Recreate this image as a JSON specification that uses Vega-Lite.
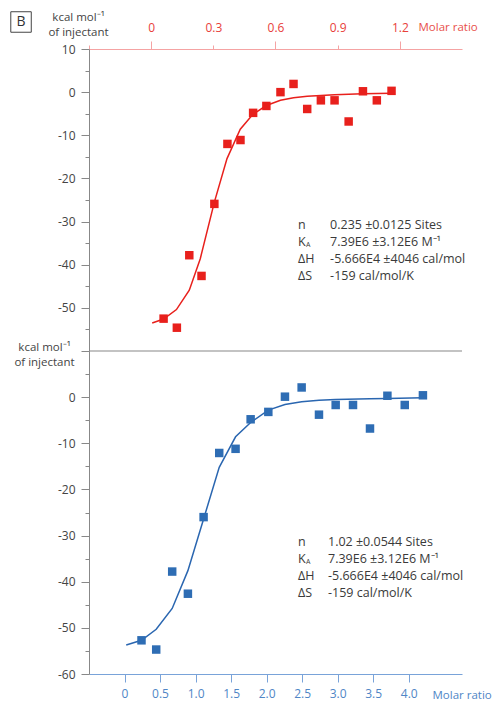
{
  "$schema": "https://vega.github.io/schema/vega-lite/v6.json",
  "padding": {"left": 8, "top": 9, "right": 5, "bottom": 5},
  "background": "white",
  "spacing": 0,
  "bounds": "flush",
  "config": {
    "view": {"stroke": null},
    "font": "Open Sans",
    "axis": {"grid": false, "labelFont": "Open Sans", "titleFont": "Open Sans", "labelFontSize": 12, "titleFontSize": 11.5, "titleFontWeight": "normal"}
  },
  "datasets": {
    "topPts": [
      {"x": 0.06, "y": -52.5}, {"x": 0.124, "y": -54.6}, {"x": 0.184, "y": -37.8}, {"x": 0.243, "y": -42.6},
      {"x": 0.305, "y": -25.9}, {"x": 0.368, "y": -12.0}, {"x": 0.431, "y": -11.1}, {"x": 0.492, "y": -4.8},
      {"x": 0.556, "y": -3.2}, {"x": 0.624, "y": 0.0}, {"x": 0.687, "y": 1.9}, {"x": 0.753, "y": -3.9},
      {"x": 0.819, "y": -1.9}, {"x": 0.885, "y": -1.9}, {"x": 0.953, "y": -6.8}, {"x": 1.022, "y": 0.2},
      {"x": 1.089, "y": -1.9}, {"x": 1.16, "y": 0.3}
    ],
    "topFit": [
      {"x": 0.005, "y": -53.5}, {"x": 0.06, "y": -52.6}, {"x": 0.122, "y": -50.4}, {"x": 0.184, "y": -45.9},
      {"x": 0.237, "y": -38.6}, {"x": 0.305, "y": -25.5}, {"x": 0.366, "y": -15.4}, {"x": 0.43, "y": -8.6},
      {"x": 0.49, "y": -5.2}, {"x": 0.556, "y": -3.1}, {"x": 0.624, "y": -1.9}, {"x": 0.687, "y": -1.3},
      {"x": 0.753, "y": -0.95}, {"x": 0.885, "y": -0.6}, {"x": 1.02, "y": -0.4}, {"x": 1.16, "y": -0.25}
    ],
    "botPts": [
      {"x": 0.239, "y": -52.7}, {"x": 0.446, "y": -54.7}, {"x": 0.671, "y": -37.8}, {"x": 0.892, "y": -42.6},
      {"x": 1.113, "y": -26.0}, {"x": 1.333, "y": -12.1}, {"x": 1.563, "y": -11.2}, {"x": 1.775, "y": -4.8},
      {"x": 2.024, "y": -3.2}, {"x": 2.258, "y": 0.1}, {"x": 2.493, "y": 2.1}, {"x": 2.737, "y": -3.8},
      {"x": 2.972, "y": -1.7}, {"x": 3.216, "y": -1.7}, {"x": 3.455, "y": -6.8}, {"x": 3.7, "y": 0.3},
      {"x": 3.944, "y": -1.7}, {"x": 4.2, "y": 0.4}
    ],
    "botFit": [
      {"x": 0.024, "y": -53.7}, {"x": 0.239, "y": -52.7}, {"x": 0.446, "y": -50.3}, {"x": 0.671, "y": -45.8},
      {"x": 0.892, "y": -37.6}, {"x": 1.113, "y": -26.4}, {"x": 1.333, "y": -15.2}, {"x": 1.563, "y": -8.6},
      {"x": 1.775, "y": -5.5}, {"x": 2.024, "y": -2.8}, {"x": 2.258, "y": -1.6}, {"x": 2.493, "y": -1.0},
      {"x": 2.737, "y": -0.7}, {"x": 2.97, "y": -0.5}, {"x": 3.455, "y": -0.35}, {"x": 3.7, "y": -0.3},
      {"x": 4.2, "y": -0.15}
    ],
    "one": [{"k": 1}]
  },
  "resolve": {"scale": {"x": "independent", "y": "independent"}, "axis": {"x": "independent", "y": "independent"}},
  "vconcat": [
    {
      "width": 373,
      "height": 302,
      "resolve": {"scale": {"y": "independent"}, "axis": {"y": "independent"}},
      "layer": [
        {
          "layer": [
            {
              "data": {"name": "one"},
              "mark": {"type": "point", "shape": "square", "filled": false, "size": 420, "stroke": "#444444", "strokeWidth": 1, "opacity": 1},
              "encoding": {
                "x": {"datum": -0.628, "type": "quantitative", "scale": {"domain": [-0.3, 1.5], "nice": false, "zero": false},
                  "axis": {
                    "orient": "top",
                    "values": [-0.3, 0, 0.3, 0.6, 0.9, 1.2],
                    "labelExpr": "datum.value < -0.1 ? '' : (datum.value === 0 ? '0' : format(datum.value, '.1f'))",
                    "domainColor": "#f5a3a3",
                    "tickColor": "#f5a3a3",
                    "tickSize": {"condition": {"test": "abs(datum.value/0.6 - round(datum.value/0.6)) < 0.01", "value": 8}, "value": 4},
                    "labelPadding": {"condition": {"test": "abs(datum.value/0.6 - round(datum.value/0.6)) < 0.01", "value": 7}, "value": 11},
                    "labelColor": "#e8403a",
                    "title": "Molar ratio",
                    "titleColor": "#e8504a",
                    "titleAlign": "left",
                    "titleBaseline": "middle",
                    "titleX": 329,
                    "titleY": -22
                  }
                },
                "y": {"datum": 16.26, "type": "quantitative", "scale": {"domain": [-60, 10], "nice": false, "zero": false},
                  "axis": {
                    "orient": "left",
                    "values": [10, 0, -10, -20, -30, -40, -50],
                    "labelExpr": "'' + datum.value",
                    "domainColor": "#888888",
                    "tickColor": "#888888",
                    "tickSize": 8,
                    "labelPadding": 6,
                    "labelColor": "#444444",
                    "title": ["kcal mol⁻¹", "of injectant"],
                    "titleColor": "#444444",
                    "titleAngle": 0,
                    "titleAlign": "center",
                    "titleBaseline": "top",
                    "titleLineHeight": 15,
                    "titleX": -11,
                    "titleY": -38
                  }
                }
              }
            },
            {
              "data": {"name": "one"},
              "mark": {"type": "text", "text": "B", "align": "center", "baseline": "middle", "fontSize": 14, "color": "#333333", "font": "Open Sans"},
              "encoding": {"x": {"datum": -0.628, "type": "quantitative"}, "y": {"datum": 16.26, "type": "quantitative"}}
            },
            {
              "data": {"name": "topFit"},
              "mark": {"type": "line", "color": "#e8201c", "strokeWidth": 1.5, "interpolate": "linear"},
              "encoding": {
                "x": {"field": "x", "type": "quantitative"},
                "y": {"field": "y", "type": "quantitative"}
              }
            },
            {
              "data": {"name": "topPts"},
              "mark": {"type": "point", "shape": "square", "filled": true, "size": 72, "color": "#e8201c", "opacity": 1},
              "encoding": {
                "x": {"field": "x", "type": "quantitative"},
                "y": {"field": "y", "type": "quantitative"}
              }
            },
            {
              "data": {"name": "one"},
              "mark": {"type": "text", "text": ["n", "K", "ΔH", "ΔS"], "align": "left", "baseline": "top", "fontSize": 12.5, "lineHeight": 17, "color": "#3a3a3a", "font": "Open Sans"},
              "encoding": {"x": {"datum": 0.7085, "type": "quantitative"}, "y": {"datum": -29.4, "type": "quantitative"}}
            },
            {
              "data": {"name": "one"},
              "mark": {"type": "text", "text": "A", "align": "left", "baseline": "top", "fontSize": 7, "dx": 8, "dy": 22, "color": "#3a3a3a", "font": "Open Sans"},
              "encoding": {"x": {"datum": 0.7085, "type": "quantitative"}, "y": {"datum": -29.4, "type": "quantitative"}}
            },
            {
              "data": {"name": "one"},
              "mark": {"type": "text", "text": ["0.235 ±0.0125 Sites", "7.39E6 ±3.12E6 M⁻¹", "-5.666E4 ±4046 cal/mol", "-159 cal/mol/K"], "align": "left", "baseline": "top", "fontSize": 12.5, "lineHeight": 17, "color": "#3a3a3a", "font": "Open Sans"},
              "encoding": {"x": {"datum": 0.8635, "type": "quantitative"}, "y": {"datum": -29.4, "type": "quantitative"}}
            }
          ]
        },
        {
          "data": {"name": "one"},
          "mark": {"type": "point", "opacity": 0, "size": 1},
          "encoding": {
            "x": {"datum": 0, "type": "quantitative"},
            "y": {"datum": 0, "type": "quantitative", "scale": {"domain": [-60, 10], "nice": false, "zero": false},
              "axis": {
                "orient": "left",
                "values": [5, -5, -15, -25, -35, -45, -55],
                "tickSize": 4,
                "tickColor": "#888888",
                "labels": false,
                "domain": false,
                "title": null
              }
            }
          }
        }
      ]
    },
    {
      "width": 373,
      "height": 323,
      "resolve": {"scale": {"y": "independent"}, "axis": {"y": "independent"}},
      "layer": [
        {
          "layer": [
            {
              "data": {"name": "one"},
              "mark": {"type": "rule", "color": "#888888", "strokeWidth": 1.2},
              "encoding": {
                "y": {"datum": 10, "type": "quantitative", "scale": {"domain": [-60, 10], "nice": false, "zero": false},
                  "axis": {
                    "orient": "left",
                    "values": [10, 0, -10, -20, -30, -40, -50, -60],
                    "labelExpr": "datum.value > 0 ? '' : '' + datum.value",
                    "domainColor": "#888888",
                    "tickColor": "#888888",
                    "tickSize": 8,
                    "labelPadding": 6,
                    "labelColor": "#444444",
                    "title": ["kcal mol⁻¹", "of injectant"],
                    "titleColor": "#444444",
                    "titleAngle": 0,
                    "titleAlign": "center",
                    "titleBaseline": "top",
                    "titleLineHeight": 15,
                    "titleX": -45,
                    "titleY": -10
                  }
                }
              }
            },
            {
              "data": {"name": "botFit"},
              "mark": {"type": "line", "color": "#2a66b0", "strokeWidth": 1.5, "interpolate": "linear"},
              "encoding": {
                "x": {"field": "x", "type": "quantitative", "scale": {"domain": [-0.5, 4.75], "nice": false, "zero": false},
                  "axis": {
                    "orient": "bottom",
                    "values": [0, 0.5, 1, 1.5, 2, 2.5, 3, 3.5, 4],
                    "labelExpr": "datum.value === 0 ? '0' : format(datum.value, '.1f')",
                    "domainColor": "#79a3d9",
                    "tickColor": "#79a3d9",
                    "tickSize": 8,
                    "labelColor": "#4f86c6",
                    "labelPadding": 6,
                    "title": "Molar ratio",
                    "titleColor": "#4f86c6",
                    "titleAlign": "left",
                    "titleBaseline": "middle",
                    "titleX": 343,
                    "titleY": 21
                  }
                },
                "y": {"field": "y", "type": "quantitative"}
              }
            },
            {
              "data": {"name": "botPts"},
              "mark": {"type": "point", "shape": "square", "filled": true, "size": 72, "color": "#2e6db4", "opacity": 1},
              "encoding": {
                "x": {"field": "x", "type": "quantitative"},
                "y": {"field": "y", "type": "quantitative"}
              }
            },
            {
              "data": {"name": "one"},
              "mark": {"type": "text", "text": ["n", "K", "ΔH", "ΔS"], "align": "left", "baseline": "top", "fontSize": 12.5, "lineHeight": 17, "color": "#3a3a3a", "font": "Open Sans"},
              "encoding": {"x": {"datum": 2.442, "type": "quantitative"}, "y": {"datum": -30.0, "type": "quantitative"}}
            },
            {
              "data": {"name": "one"},
              "mark": {"type": "text", "text": "A", "align": "left", "baseline": "top", "fontSize": 7, "dx": 8, "dy": 22, "color": "#3a3a3a", "font": "Open Sans"},
              "encoding": {"x": {"datum": 2.442, "type": "quantitative"}, "y": {"datum": -30.0, "type": "quantitative"}}
            },
            {
              "data": {"name": "one"},
              "mark": {"type": "text", "text": ["1.02 ±0.0544 Sites", "7.39E6 ±3.12E6 M⁻¹", "-5.666E4 ±4046 cal/mol", "-159 cal/mol/K"], "align": "left", "baseline": "top", "fontSize": 12.5, "lineHeight": 17, "color": "#3a3a3a", "font": "Open Sans"},
              "encoding": {"x": {"datum": 2.864, "type": "quantitative"}, "y": {"datum": -30.0, "type": "quantitative"}}
            }
          ]
        },
        {
          "data": {"name": "one"},
          "mark": {"type": "point", "opacity": 0, "size": 1},
          "encoding": {
            "x": {"datum": 1, "type": "quantitative"},
            "y": {"datum": 0, "type": "quantitative", "scale": {"domain": [-60, 10], "nice": false, "zero": false},
              "axis": {
                "orient": "left",
                "values": [5, -5, -15, -25, -35, -45, -55],
                "tickSize": 4,
                "tickColor": "#888888",
                "labels": false,
                "domain": false,
                "title": null
              }
            }
          }
        }
      ]
    }
  ]
}
